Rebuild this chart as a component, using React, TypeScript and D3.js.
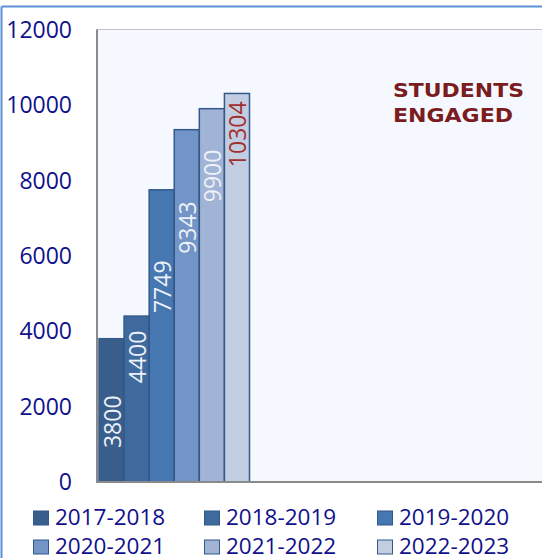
import * as d3 from 'd3';

const seasons = ['2017-2018', '2018-2019', '2019-2020', '2020-2021', '2021-2022', '2022-2023'];
const students = [3800, 4400, 7749, 9343, 9900, 10304];
const yTicks = [0, 2000, 4000, 6000, 8000, 10000, 12000];
const titleLines = ['STUDENTS', 'ENGAGED'];

const COLORS = ['#3a5e8b', '#3f6a9e', '#4677b1', '#7294c6', '#a1b4d6', '#c2cde2'];
// where each rotated value label starts, in data units (moved by hand in the original)
const LABEL_AT = [900, 2620, 4480, 6050, 7420, 8350];

const W = 542;
const H = 558;
const PLOT = { left: 97, top: 29.5, bottom: 482 };
const FONT = "'Open Sans', 'Liberation Sans', sans-serif";
const NAVY = '#10108c';

export default function App() {
  const y = d3.scaleLinear().domain([0, 12000]).range([PLOT.bottom, PLOT.top]);
  const x = d3.scaleBand<string>().domain(seasons).range([99, 249.5]).paddingInner(0);

  return (
    <svg
      width={W}
      height={H}
      viewBox={`0 0 ${W} ${H}`}
      style={{ position: 'absolute', left: 0, top: 0, background: '#fff' }}
    >
      {/* outer chart border, only top and left edges show */}
      <line x1={1.5} y1={6.5} x2={W} y2={6.5} stroke="#5b8fd6" strokeWidth={2} />
      <line x1={1.5} y1={6.5} x2={1.5} y2={H} stroke="#5b8fd6" strokeWidth={2} />

      {/* plot area */}
      <rect x={PLOT.left} y={PLOT.top} width={W - PLOT.left + 5} height={PLOT.bottom - PLOT.top} fill="#f5f9ff" stroke="#c4c4c4" strokeWidth={1} />

      {yTicks.map((t) => (
        <text key={t} x={72} y={y(t)} dy="0.36em" textAnchor="end" fontFamily={FONT} fontSize={23} fill={NAVY}>
          {t}
        </text>
      ))}

      {students.map((v, i) => (
        <rect
          key={seasons[i]}
          x={x(seasons[i]) ?? 0}
          y={y(v)}
          width={x.bandwidth()}
          height={PLOT.bottom - y(v)}
          fill={COLORS[i]}
          stroke="#33598a"
          strokeWidth={1.5}
        />
      ))}

      {/* axes */}
      <line x1={PLOT.left} y1={PLOT.top} x2={PLOT.left} y2={PLOT.bottom + 1} stroke="#8a8a8a" strokeWidth={2} />
      <line x1={PLOT.left} y1={PLOT.bottom} x2={W} y2={PLOT.bottom} stroke="#8a8a8a" strokeWidth={2} />

      {students.map((v, i) => {
        const cx = (x(seasons[i]) ?? 0) + x.bandwidth() / 2 + 1;
        return (
          <text
            key={'l' + i}
            transform={`translate(${cx + 8.5},${y(LABEL_AT[i])}) rotate(-90)`}
            fontFamily={FONT}
            fontSize={23}
            fill={i === 5 ? '#a0302e' : '#eef1f7'}
          >
            {v}
          </text>
        );
      })}

      {titleLines.map((s, i) => (
        <text
          key={s}
          x={393}
          y={97 + i * 25}
          fontFamily="'DejaVu Sans', sans-serif"
          fontWeight="bold"
          fontSize={20}
          fill="#7b1c20"
          textLength={i === 0 ? 131 : 120}
          lengthAdjust="spacingAndGlyphs"
        >
          {s}
        </text>
      ))}

      {/* legend, 3 columns x 2 rows */}
      {seasons.map((s, i) => {
        const col = i % 3;
        const row = Math.floor(i / 3);
        const lx = [33, 204, 377][col];
        const ly = 525 + row * 29;
        return (
          <g key={'lg' + s}>
            <rect x={lx + 0.5} y={ly - 14} width={15} height={14} fill={COLORS[i]} stroke="#33598a" strokeWidth={1} />
            <text x={lx + 22} y={ly} fontFamily={FONT} fontSize={22.5} fill={NAVY}>
              {s}
            </text>
          </g>
        );
      })}
    </svg>
  );
}
